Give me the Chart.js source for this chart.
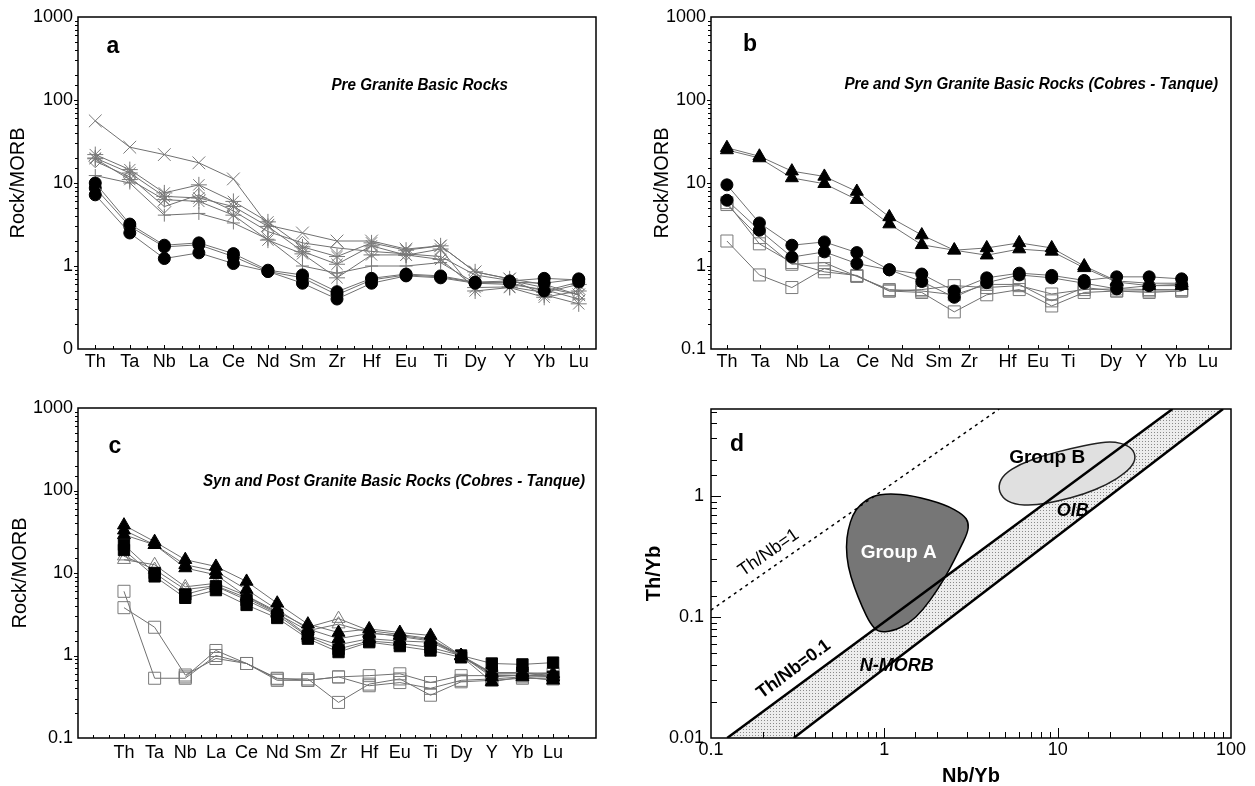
<!DOCTYPE html>
<html>
<head>
<meta charset="utf-8">
<script src="https://cdn.jsdelivr.net/npm/chart.js@4.4.1/dist/chart.umd.min.js"></script>
<style>
  html, body { margin: 0; padding: 0; background: #fff; }
  #wrap { position: relative; width: 1255px; height: 786px; overflow: hidden; }
  canvas { position: absolute; }
</style>
</head>
<body>
<div id="wrap">
  <canvas id="panelA" width="620" height="390" style="left:0;top:0"></canvas>
  <canvas id="panelB" width="635" height="390" style="left:620px;top:0"></canvas>
  <canvas id="panelC" width="620" height="396" style="left:0;top:390px"></canvas>
  <canvas id="panelD" width="635" height="396" style="left:620px;top:390px"></canvas>
</div>
<script>
const FONT = '"Liberation Sans", Arial, Helvetica, sans-serif';
Chart.defaults.font.family = FONT;
Chart.defaults.color = '#000';

const elements = ['Th', 'Ta', 'Nb', 'La', 'Ce', 'Nd', 'Sm', 'Zr', 'Hf', 'Eu', 'Ti', 'Dy', 'Y', 'Yb', 'Lu'];
const logTickValues = [0.1, 1, 10, 100, 1000];
const logTickLabelsA = ['0', '1', '10', '100', '1000']; // panel a prints its bottom decade as "0"
const logTickLabelsBC = ['0.1', '1', '10', '100', '1000'];
// in panel b the element names sit a little off the sample columns
const labelPosB = [1, 2.03, 3.16, 4.15, 5.34, 6.4, 7.52, 8.46, 9.64, 10.58, 11.51, 12.82, 13.76, 14.82, 15.81];

// panel a - Pre Granite Basic Rocks
const aCircle1 = [10, 3.2, 1.78, 1.9, 1.41, 0.89, 0.78, 0.49, 0.71, 0.8, 0.76, 0.64, 0.66, 0.71, 0.68];
const aCircle2 = [7.2, 2.5, 1.23, 1.44, 1.07, 0.86, 0.62, 0.4, 0.62, 0.76, 0.72, 0.62, 0.63, 0.5, 0.64];
const aCircle3 = [8.7, 3.0, 1.7, 1.8, 1.3, 0.86, 0.72, 0.45, 0.68, 0.78, 0.74, 0.63, 0.64, 0.62, 0.7];
const aCross = [56, 27, 22, 17.5, 11.2, 3.1, 2.5, 2.0, 2.0, 1.6, 1.75, 0.85, 0.7, 0.6, 0.45];
const aStar1 = [22, 14.5, 7.6, 9.5, 6.0, 3.4, 1.7, 1.3, 1.9, 1.55, 1.75, 0.85, 0.7, 0.45, 0.35];
const aStar2 = [20, 13.2, 6.9, 6.6, 5.2, 3.0, 1.5, 1.05, 1.75, 1.35, 1.6, 0.5, 0.55, 0.42, 0.5];
const aStar3 = [19.6, 11, 6.3, 6.0, 4.1, 2.05, 1.4, 0.72, 1.36, 1.36, 1.2, 0.55, 0.56, 0.48, 0.6];
const aDiamond = [18.3, 11.8, 5.2, 7.2, 4.6, 2.6, 1.9, 1.65, 1.5, 1.4, 1.3, 0.78, 0.67, 0.55, 0.45];
const aPlus = [12.3, 10, 4.1, 4.3, 3.3, 2.1, 1.0, 0.82, 1.0, 1.0, 1.1, 0.62, 0.6, 0.52, 0.4];

// panel b - Pre and Syn Granite Basic Rocks
const bTri1 = [26.6, 21, 13.9, 12, 7.9, 3.9, 2.36, 1.55, 1.65, 1.9, 1.65, 1.0, 0.66, 0.62, 0.62];
const bTri2 = [25, 20, 11.5, 9.8, 6.3, 3.2, 1.8, 1.55, 1.35, 1.6, 1.5, 0.95, 0.64, 0.58, 0.58];
const bCircle1 = [9.5, 3.3, 1.78, 1.95, 1.45, 0.9, 0.8, 0.5, 0.72, 0.82, 0.77, 0.67, 0.74, 0.74, 0.7];
const bCircle2 = [6.2, 2.7, 1.28, 1.48, 1.07, 0.9, 0.65, 0.42, 0.63, 0.78, 0.72, 0.62, 0.53, 0.58, 0.6];
const bSquare1 = [2.0, 0.78, 0.55, 0.93, 0.76, 0.5, 0.48, 0.28, 0.45, 0.52, 0.33, 0.48, 0.5, 0.48, 0.5];
const bSquare2 = [5.8, 1.85, 1.1, 0.85, 0.77, 0.5, 0.52, 0.58, 0.55, 0.58, 0.46, 0.52, 0.53, 0.52, 0.52];
const bSquare3 = [5.5, 2.2, 1.05, 1.1, 0.75, 0.52, 0.5, 0.45, 0.6, 0.6, 0.38, 0.55, 0.5, 0.5, 0.5];

// panel c - Syn and Post Granite Basic Rocks
const cTri1 = [38, 24, 14.5, 12, 7.9, 4.3, 2.4, 1.9, 2.1, 1.9, 1.75, 1.0, 0.62, 0.62, 0.6];
const cTri2 = [33, 22, 12.6, 10.5, 6.3, 3.6, 2.1, 1.6, 1.85, 1.75, 1.55, 1.0, 0.55, 0.58, 0.55];
const cTri3 = [29, 22, 11.5, 9.5, 5.2, 3.3, 1.75, 1.35, 1.6, 1.5, 1.45, 0.98, 0.48, 0.55, 0.5];
const cSquare1 = [22, 10, 5.5, 6.9, 4.7, 3.1, 1.7, 1.2, 1.5, 1.4, 1.25, 1.0, 0.8, 0.78, 0.82];
const cSquare2 = [19, 9.1, 5.0, 6.2, 4.1, 2.85, 1.6, 1.1, 1.45, 1.3, 1.15, 0.95, 0.62, 0.62, 0.55];
const cOpenTri1 = [14.5, 12.6, 6.8, 7.5, 5.3, 3.4, 2.2, 2.8, 2.0, 1.8, 1.6, 1.0, 0.6, 0.6, 0.62];
const cOpenTri2 = [16, 11, 6.3, 7.0, 5.0, 3.2, 2.0, 2.4, 1.9, 1.7, 1.5, 1.0, 0.58, 0.57, 0.57];
const cOpenSq1 = [6.0, 0.53, 0.53, 1.0, 0.8, 0.53, 0.5, 0.55, 0.57, 0.6, 0.47, 0.57, 0.57, 0.57, 0.6];
const cOpenSq2 = [3.8, 2.2, 0.58, 0.92, 0.8, 0.52, 0.52, 0.27, 0.45, 0.52, 0.33, 0.48, 0.5, 0.53, 0.52];
const cOpenSq3 = [null, null, 0.55, 1.15, 0.8, 0.5, 0.5, 0.55, 0.43, 0.47, 0.4, 0.5, 0.52, 0.55, 0.55];

// panel d - Th/Yb vs Nb/Yb
const dXTickValues = [0.1, 1, 10, 100];
const dXTickLabels = ['0.1', '1', '10', '100'];
const dYTickValues = [0.01, 0.1, 1];
const dYTickLabels = ['0.01', '0.1', '1'];
const thNb01Line = [{x: 0.124, y: 0.01}, {x: 46, y: 5.25}];
const arrayLowerLine = [{x: 0.3, y: 0.01}, {x: 90, y: 5.25}];
const thNb1Line = [{x: 0.1, y: 0.114}, {x: 4.6, y: 5.25}];
const groupA = [
  {x: 0.852, y: 1.0}, {x: 1.06, y: 1.05}, {x: 1.46, y: 1.01}, {x: 2.24, y: 0.853}, {x: 2.86, y: 0.703},
  {x: 3.07, y: 0.6}, {x: 3.02, y: 0.495}, {x: 2.71, y: 0.36}, {x: 2.37, y: 0.245}, {x: 2.02, y: 0.167},
  {x: 1.67, y: 0.114}, {x: 1.38, y: 0.088}, {x: 1.11, y: 0.0764}, {x: 0.924, y: 0.075}, {x: 0.83, y: 0.088},
  {x: 0.745, y: 0.121}, {x: 0.669, y: 0.178}, {x: 0.617, y: 0.261}, {x: 0.601, y: 0.383}, {x: 0.617, y: 0.528},
  {x: 0.658, y: 0.703}, {x: 0.724, y: 0.853}
];
const groupB = [
  {x: 4.52, y: 1.21}, {x: 4.9, y: 1.52}, {x: 6.08, y: 1.84}, {x: 8.18, y: 2.15}, {x: 11.9, y: 2.48},
  {x: 16.9, y: 2.75}, {x: 21.0, y: 2.82}, {x: 25.3, y: 2.64}, {x: 27.9, y: 2.3}, {x: 27.9, y: 1.9},
  {x: 24.7, y: 1.56}, {x: 19.4, y: 1.25}, {x: 14.0, y: 1.03}, {x: 10.1, y: 0.91}, {x: 7.34, y: 0.836},
  {x: 5.61, y: 0.853}, {x: 4.78, y: 0.97}
];

const LINE = '#707070';
const GREY = '#7a7a7a';
const markers = {
  circle:   {pointStyle: 'circle', pointRadius: 6, pointBackgroundColor: '#000', pointBorderColor: '#000'},
  triangle: {pointStyle: 'triangle', pointRadius: 7.5, pointBackgroundColor: '#000', pointBorderColor: '#000'},
  square:   {pointStyle: 'rect', pointRadius: 8, pointBackgroundColor: '#000', pointBorderColor: '#000'},
  openSq:   {pointStyle: 'rect', pointRadius: 8.5, pointBackgroundColor: 'rgba(0,0,0,0)', pointBorderColor: GREY},
  openTri:  {pointStyle: 'triangle', pointRadius: 7.5, pointBackgroundColor: 'rgba(0,0,0,0)', pointBorderColor: GREY},
  cross:    {pointStyle: 'crossRot', pointRadius: 9, pointBorderColor: GREY},
  star:     {pointStyle: 'star', pointRadius: 8, pointBorderColor: GREY},
  diamond:  {pointStyle: 'rectRot', pointRadius: 6.5, pointBackgroundColor: 'rgba(0,0,0,0)', pointBorderColor: GREY},
  plus:     {pointStyle: 'cross', pointRadius: 6.5, pointBorderColor: GREY}
};

function series(vals, kind) {
  return Object.assign({
    data: vals.map((v, i) => ({x: i + 1, y: v})),
    showLine: true, borderColor: LINE, borderWidth: 1, pointBorderWidth: 1
  }, markers[kind]);
}

function labelFor(v, values, labels) {
  const i = values.findIndex(t => Math.abs(v / t - 1) < 1e-6);
  return i < 0 ? '' : labels[i];
}

// frame, inner tick marks, panel letter and panel title
const decor = {
  id: 'decor',
  afterDatasetsDraw(chart, args, o) {
    const {ctx, chartArea: a} = chart;
    const sx = chart.scales.x, sy = chart.scales.y;
    ctx.save();
    ctx.strokeStyle = '#000';
    ctx.lineWidth = 1;
    ctx.beginPath();
    for (const t of sx.ticks) {
      const px = Math.round(sx.getPixelForValue(t.value)) + 0.5;
      if (px < a.left + 2 || px > a.right - 2) continue;
      const len = t.label ? o.majorLen : o.minorLen;
      ctx.moveTo(px, a.bottom);
      ctx.lineTo(px, a.bottom - len);
    }
    for (const t of sy.ticks) {
      const py = Math.round(sy.getPixelForValue(t.value)) + 0.5;
      if (py < a.top + 2 || py > a.bottom - 2) continue;
      const len = t.label ? o.majorLen : o.minorLen;
      ctx.moveTo(a.left, py);
      ctx.lineTo(a.left + o.yDir * len, py);
    }
    ctx.stroke();
    ctx.lineWidth = 1.5;
    ctx.strokeRect(a.left, a.top, a.right - a.left, a.bottom - a.top);

    ctx.fillStyle = '#000';
    ctx.textAlign = 'center';
    ctx.textBaseline = 'middle';
    ctx.font = 'bold 23px ' + FONT;
    ctx.fillText(o.letter, a.left + o.letterDx, a.top + o.letterDy);
    if (o.title) {
      ctx.font = 'italic bold 16px ' + FONT;
      ctx.textAlign = 'right';
      ctx.translate(a.right - o.titleDx, a.top + o.titleDy);
      ctx.scale(0.95, 1);
      ctx.fillText(o.title, 0, 0);
    }
    ctx.restore();
  }
};

function elementPanel(id, cfg) {
  const xTicks = {
    stepSize: 0.5, autoSkip: false, maxRotation: 0, padding: cfg.xPad,
    font: {size: 18},
    callback: v => (Number.isInteger(v) && v >= 1 && v <= elements.length) ? elements[v - 1] : ''
  };
  const xScale = {
    type: 'linear', min: cfg.xMin, max: cfg.xMax,
    grid: {display: false, drawTicks: false}, border: {display: false},
    ticks: xTicks,
    afterFit: s => { s.height = cfg.xHeight; }
  };
  if (cfg.labelPos) {
    xTicks.callback = (v, i) => elements[i];
    xScale.afterBuildTicks = s => { s.ticks = cfg.labelPos.map(v => ({value: v})); };
  }
  return new Chart(document.getElementById(id), {
    type: 'scatter',
    data: {datasets: cfg.datasets},
    options: {
      responsive: false, animation: false, devicePixelRatio: 1,
      layout: {padding: {left: 0, top: cfg.top, right: 24, bottom: 0}},
      plugins: {
        legend: {display: false}, tooltip: {enabled: false},
        decor: Object.assign({majorLen: 4, minorLen: 3, yDir: -1}, cfg.decor)
      },
      scales: {
        x: xScale,
        y: {
          type: 'logarithmic', min: 0.1, max: 1000,
          grid: {display: false, drawTicks: false}, border: {display: false},
          ticks: {autoSkip: false, padding: 5, font: {size: 18},
                  callback: v => labelFor(v, logTickValues, cfg.yLabels)},
          title: {display: true, text: 'Rock/MORB', font: {size: 20}, padding: {top: cfg.titlePad, bottom: 0}},
          afterFit: s => { s.width = cfg.yWidth; }
        }
      }
    },
    plugins: [decor]
  });
}

elementPanel('panelA', {
  top: 17, yWidth: 78, xHeight: 41, xPad: 2, xMin: 0.5, xMax: 15.5, titlePad: 6,
  yLabels: logTickLabelsA,
  decor: {letter: 'a', letterDx: 35, letterDy: 30, title: 'Pre Granite Basic Rocks', titleDx: 88, titleDy: 69},
  datasets: [
    series(aCircle1, 'circle'), series(aCircle2, 'circle'), series(aCircle3, 'circle'),
    series(aCross, 'cross'), series(aStar1, 'star'), series(aStar2, 'star'),
    series(aStar3, 'star'), series(aDiamond, 'diamond'), series(aPlus, 'plus')
  ]
});

elementPanel('panelB', {
  top: 17, yWidth: 91, xHeight: 41, xPad: 2, xMin: 0.51, xMax: 16.52, titlePad: 30,
  yLabels: logTickLabelsBC, labelPos: labelPosB,
  decor: {letter: 'b', letterDx: 39, letterDy: 28,
          title: 'Pre and Syn Granite Basic Rocks (Cobres - Tanque)', titleDx: 13, titleDy: 68},
  datasets: [
    series(bTri1, 'triangle'), series(bTri2, 'triangle'),
    series(bCircle1, 'circle'), series(bCircle2, 'circle'),
    series(bSquare1, 'openSq'), series(bSquare2, 'openSq'), series(bSquare3, 'openSq')
  ]
});

elementPanel('panelC', {
  top: 18, yWidth: 78, xHeight: 48, xPad: 4, xMin: -0.5, xMax: 16.4, titlePad: 8,
  yLabels: logTickLabelsBC,
  decor: {letter: 'c', letterDx: 37, letterDy: 39,
          title: 'Syn and Post Granite Basic Rocks (Cobres - Tanque)', titleDx: 11, titleDy: 74},
  datasets: [
    series(cTri1, 'triangle'), series(cTri2, 'triangle'), series(cTri3, 'triangle'),
    series(cSquare1, 'square'), series(cSquare2, 'square'),
    series(cOpenTri1, 'openTri'), series(cOpenTri2, 'openTri'),
    series(cOpenSq1, 'openSq'), series(cOpenSq2, 'openSq'), series(cOpenSq3, 'openSq')
  ]
});

// panel d: array band, group fields and labels
function stipple(ctx) {
  const c = document.createElement('canvas');
  c.width = 3; c.height = 3;
  const g = c.getContext('2d');
  g.fillStyle = '#ededed';
  g.fillRect(0, 0, 3, 3);
  g.fillStyle = '#8a8a8a';
  g.fillRect(0, 0, 1, 1);
  return ctx.createPattern(c, 'repeat');
}

function smoothShape(ctx, pts, fill, stroke) {
  const n = pts.length;
  const mid = (p, q) => [(p[0] + q[0]) / 2, (p[1] + q[1]) / 2];
  ctx.beginPath();
  const m = mid(pts[n - 1], pts[0]);
  ctx.moveTo(m[0], m[1]);
  for (let i = 0; i < n; i++) {
    const nx = mid(pts[i], pts[(i + 1) % n]);
    ctx.quadraticCurveTo(pts[i][0], pts[i][1], nx[0], nx[1]);
  }
  ctx.closePath();
  ctx.fillStyle = fill;
  ctx.fill();
  ctx.lineWidth = 1.5;
  ctx.strokeStyle = stroke;
  ctx.stroke();
}

const diagram = {
  id: 'diagram',
  beforeDatasetsDraw(chart) {
    const {ctx, chartArea: a, scales: {x, y}} = chart;
    const P = p => [x.getPixelForValue(p.x), y.getPixelForValue(p.y)];
    ctx.save();
    ctx.beginPath();
    ctx.rect(a.left, a.top, a.right - a.left, a.bottom - a.top);
    ctx.clip();
    const band = thNb01Line.concat(arrayLowerLine.slice().reverse()).map(P);
    ctx.beginPath();
    band.forEach(([px, py], i) => i ? ctx.lineTo(px, py) : ctx.moveTo(px, py));
    ctx.closePath();
    ctx.fillStyle = stipple(ctx);
    ctx.fill();
    smoothShape(ctx, groupA.map(P), '#767676', '#000');
    smoothShape(ctx, groupB.map(P), '#e0e0e0', '#222');
    ctx.restore();
  },
  afterDatasetsDraw(chart) {
    const {ctx, scales: {x, y}} = chart;
    const notes = [
      {text: 'Group B', x: 8.7, y: 2.08, font: 'bold 19px', color: '#000'},
      {text: 'Group A', x: 1.21, y: 0.337, font: 'bold 19px', color: '#fff'},
      {text: 'OIB', x: 12.2, y: 0.75, font: 'italic bold 18px', color: '#000'},
      {text: 'N-MORB', x: 1.18, y: 0.0395, font: 'italic bold 18px', color: '#000'},
      {text: 'Th/Nb=1', x: 0.215, y: 0.34, font: '18px', color: '#000', along: thNb1Line},
      {text: 'Th/Nb=0.1', x: 0.3, y: 0.037, font: 'bold 18px', color: '#000', along: thNb01Line}
    ];
    ctx.save();
    ctx.textAlign = 'center';
    ctx.textBaseline = 'middle';
    for (const n of notes) {
      ctx.save();
      ctx.translate(x.getPixelForValue(n.x), y.getPixelForValue(n.y));
      if (n.along) {
        const [p, q] = n.along;
        ctx.rotate(Math.atan2(y.getPixelForValue(q.y) - y.getPixelForValue(p.y),
                              x.getPixelForValue(q.x) - x.getPixelForValue(p.x)));
      }
      ctx.font = n.font + ' ' + FONT;
      ctx.fillStyle = n.color;
      ctx.fillText(n.text, 0, 0);
      ctx.restore();
    }
    ctx.restore();
  }
};

new Chart(document.getElementById('panelD'), {
  type: 'scatter',
  data: {
    datasets: [
      {data: thNb01Line, showLine: true, borderColor: '#000', borderWidth: 2.5, pointRadius: 0},
      {data: arrayLowerLine, showLine: true, borderColor: '#000', borderWidth: 2.5, pointRadius: 0},
      {data: thNb1Line, showLine: true, borderColor: '#000', borderWidth: 1.5, borderDash: [3, 4], pointRadius: 0}
    ]
  },
  options: {
    responsive: false, animation: false, devicePixelRatio: 1,
    layout: {padding: {left: 0, top: 19, right: 24, bottom: 0}},
    plugins: {
      legend: {display: false}, tooltip: {enabled: false},
      decor: {majorLen: 10, minorLen: 6, yDir: 1, letter: 'd', letterDx: 26, letterDy: 36}
    },
    scales: {
      x: {
        type: 'logarithmic', min: 0.1, max: 100,
        grid: {display: false, drawTicks: false}, border: {display: false},
        ticks: {autoSkip: false, maxRotation: 0, padding: 1, font: {size: 18},
                callback: v => labelFor(v, dXTickValues, dXTickLabels)},
        title: {display: true, text: 'Nb/Yb', font: {size: 20, weight: 'bold', lineHeight: 1}, padding: {top: 0, bottom: 0}},
        afterFit: s => { s.height = 48; }
      },
      y: {
        type: 'logarithmic', min: 0.01, max: 5.25,
        grid: {display: false, drawTicks: false}, border: {display: false},
        ticks: {autoSkip: false, padding: 7, font: {size: 18},
                callback: v => labelFor(v, dYTickValues, dYTickLabels)},
        title: {display: true, text: 'Th/Yb', font: {size: 20, weight: 'bold'}, padding: {top: 22, bottom: 0}},
        afterFit: s => { s.width = 91; }
      }
    }
  },
  plugins: [diagram, decor]
});
</script>
</body>
</html>
